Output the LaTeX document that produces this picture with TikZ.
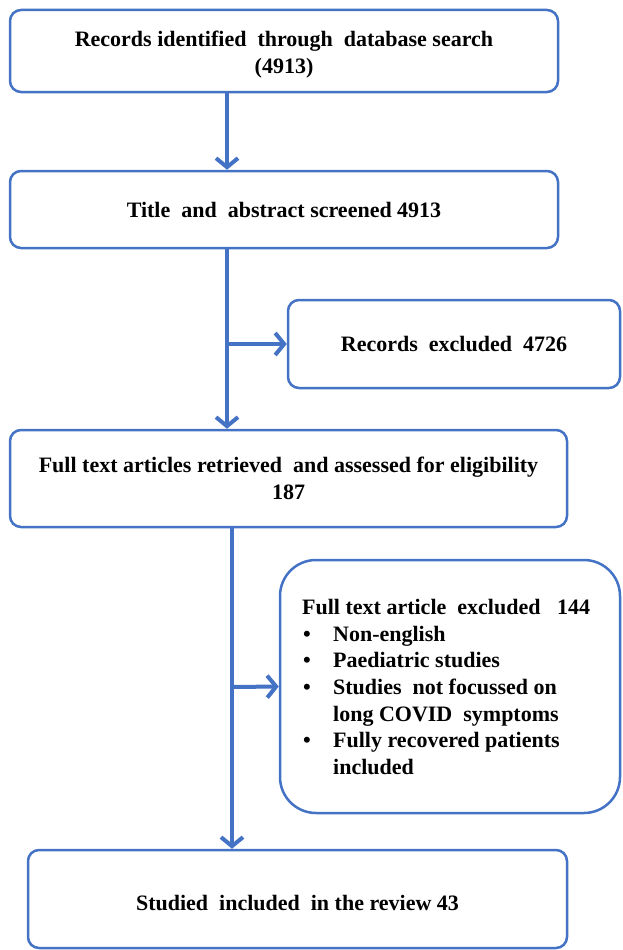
\documentclass[tikz,border=0pt]{standalone}
\usepackage{fontspec}
\setmainfont{Liberation Serif}
\usetikzlibrary{arrows.meta}
\definecolor{flowblue}{RGB}{68,114,196}
\tikzset{
  box/.style={draw=flowblue, line width=2.5pt, rounded corners=11pt, fill=white,
    inner sep=0pt, align=center, font=\fontsize{22}{27}\selectfont\bfseries},
  bigbox/.style={box, rounded corners=36pt},
  conn/.style={draw=flowblue, line width=4pt},
  arr/.style={conn, -{Straight Barb[length=9pt, width=22pt]}},
  txt/.style={inner sep=0pt, align=left, font=\fontsize{22}{26.7}\selectfont\bfseries},
  ctxt/.style={inner sep=0pt, align=center, font=\fontsize{22}{27}\selectfont\bfseries}
}
\newcommand{\bul}{\makebox[31pt][l]{\hspace{1pt}•}}
\newcommand{\ind}{\hspace*{31pt}}
\begin{document}
\begin{tikzpicture}[x=1pt, y=-1pt]
\useasboundingbox (0,0) rectangle (622,950);
\node[box, minimum width=548pt, minimum height=82pt] (b1) at (284,51) {};
\node[ctxt] (t1) at (284,55)
  {Records identified\ \ through\ \ database search\\(4913)};
\node[box, minimum width=548pt, minimum height=77pt] (b2) at (284,209.5)
  {Title\ \ and\ \ abstract screened 4913};
\node[box, minimum width=332pt, minimum height=88pt] (b3) at (454,344)
  {Records\ \ excluded\ \ 4726};
\node[box, minimum width=557pt, minimum height=97pt] (b4) at (288.5,478.5)
  {Full text articles retrieved\ \ and assessed for eligibility\\187};
\node[bigbox, minimum width=340pt, minimum height=253pt] (b5) at (450,686.5) {};
\node[txt, anchor=west] (t5) at (302,687)
  {Full text article\ \ excluded\ \ \ 144\\
   \bul Non-english\\
   \bul Paediatric studies\\
   \bul Studies\ \ not focussed on\\
   \ind long COVID\ \ symptoms\\
   \bul Fully recovered patients\\
   \ind included};
\node[box, minimum width=539pt, minimum height=98pt] (b6) at (297.5,899) {};
\node[ctxt] (t6) at (297.5,903) {Studied\ \ included\ \ in the review 43};
\coordinate (j1) at (227,344);
\coordinate (j2) at (232,687);
\draw[arr] ([xshift=-57pt]b1.south) -- ([xshift=-57pt]b2.north);
\draw[arr] ([xshift=-57pt]b2.south) -- ([xshift=-61.5pt]b4.north);
\draw[arr] (j1) -- (b3.west);
\draw[arr] ([xshift=-56.5pt]b4.south) -- ([xshift=-65.5pt]b6.north);
\draw[arr] (j2) -- (b5.west);
\end{tikzpicture}
\end{document}
